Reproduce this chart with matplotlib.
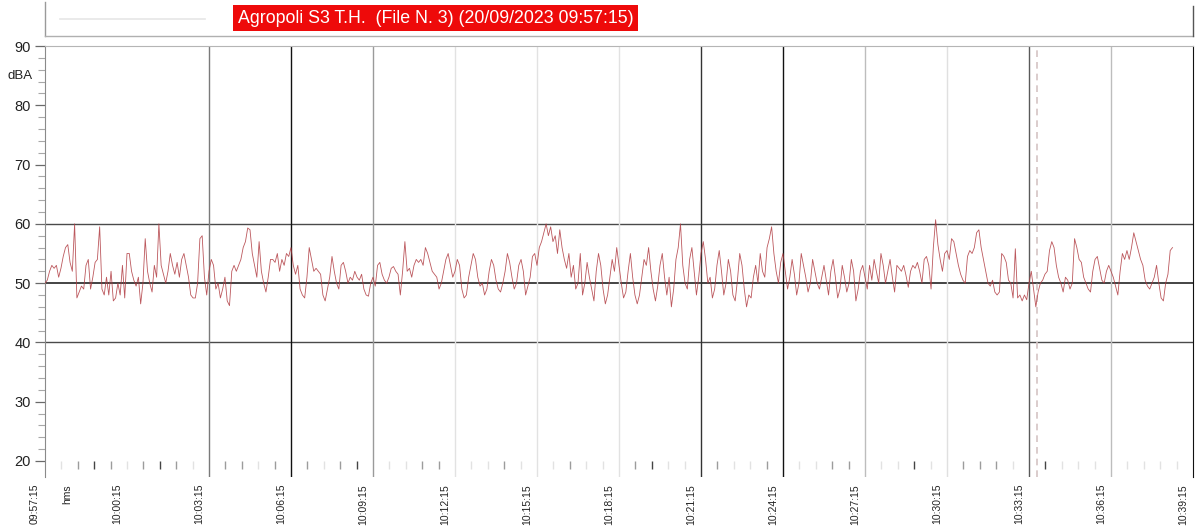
import matplotlib
matplotlib.use("Agg")
import matplotlib.pyplot as plt
import matplotlib.transforms as mtransforms
from matplotlib.patches import Rectangle
from matplotlib.lines import Line2D
import numpy as np

# ---- data -------------------------------------------------------------
sample_step_s = 5  # seconds between level readings
level_dba = [
    # 09:57:15
    50, 50.5, 52, 53, 52.5, 53, 51, 52.5, 54.5, 56, 56.5, 53.5, 52, 60, 47.5, 48.5, 49.5, 49, 53, 54,
    49, 51, 53.5, 54, 59.5, 49, 48, 51, 48, 52, 47, 47.5, 50, 48, 53, 47.5, 55, 55, 52, 50.5,
    49.5, 51, 46.5, 50, 57.5, 52, 50, 48.5, 53, 51, 60, 53, 51.5, 50, 52, 55, 53, 51.5, 53.5, 51,
    54, 55, 53, 51, 48, 47.5, 47.5, 50, 57.5, 58, 51, 48, 52, 54, 53, 49, 50, 47.5, 49, 51,
    47, 46.2, 52, 53, 52, 53, 54, 56, 57, 59.3, 59, 55, 53, 51, 57, 52, 50, 48.5, 51, 54,
    54, 53.5, 55, 52, 54, 53, 55, 54.5, 56, 53, 51.5, 53, 49, 48, 47.5, 51, 56, 54, 52, 52.5,
    52, 51.5, 48, 47, 49, 51, 54.5, 52, 50, 49, 53, 53.5, 52, 50, 51, 50.5, 52, 51, 50.5, 51.5,
    49, 48, 47.8, 50, 51, 49.5, 53, 53.5, 51.5, 50.5, 50, 51, 52.5, 52.8, 52, 51.5, 48, 52, 57, 52,
    52.5, 51, 53, 54, 53.5, 54, 53, 56, 55, 53.5, 52, 51.5, 51, 49, 50, 52, 54, 55, 53, 51,
    # 10:12:15
    52, 54, 53, 49, 47.5, 48, 51, 53, 55, 54, 51, 49.5, 50, 48, 49, 52, 54, 53, 50.5, 49,
    48.5, 50, 52, 55, 53.5, 51, 49, 50, 53, 54, 52, 48, 49.5, 51, 54.5, 55, 53, 56, 57, 58.5,
    60, 58, 59.5, 57, 58, 55, 59, 56, 54, 52.5, 55, 51, 53, 49, 50, 55, 48, 50, 53.5, 51,
    49, 47, 52, 55, 53, 49, 46.5, 48, 51, 54, 52, 56, 53, 50, 47.5, 48.5, 52, 55, 51, 48,
    46.5, 48, 51, 54, 53, 56, 52, 49, 47, 49.5, 53, 55, 51, 48, 51, 46, 49, 54, 56, 60,
    53, 50, 49, 54, 56, 52, 48, 51, 55, 57, 54, 50, 51, 47.5, 49, 53, 55.5, 52, 48, 50,
    54, 52, 48, 47, 50.5, 55, 53, 49, 46, 48, 47.5, 51, 53, 50, 55, 52, 51, 56, 57.5, 59.5,
    55, 52, 50, 53.5, 55, 52, 49, 51, 54, 51.5, 48, 50, 55, 53, 51, 48.5, 50, 54, 52, 50,
    49, 51, 53, 50.5, 48, 52, 54, 51, 47.5, 49, 53, 51, 48.5, 50, 54, 52, 47, 49, 52, 53,
    51, 49, 53, 50.5, 54, 52, 50, 55, 53, 50, 52, 54, 51, 48.5, 53, 52.5, 52, 53, 51.3, 49.3,
    # 10:28:55
    52, 53, 52.5, 53.5, 52, 50, 54, 54.5, 53, 49, 56, 60.7, 56.5, 54, 52, 55, 55.5, 54, 57.5, 57,
    55, 53, 51.5, 50.5, 50, 54.5, 55.5, 55, 56, 58.5, 59, 56, 54, 52, 50, 49.5, 50.5, 48.5, 48, 48.5,
    55, 54.5, 53.5, 50.5, 50, 47.5, 55.8, 47.5, 48, 47, 48, 47.2, 50, 52, 49, 46, 48.5, 50, 50.5, 51.5,
    52, 55.5, 57, 56, 53, 51, 50, 48.5, 51, 50.5, 49, 50, 57.5, 56, 54, 53.5, 51, 50, 49, 48.5,
    52, 54, 54.5, 52.5, 50.5, 50, 52, 53, 52, 51, 49.5, 48, 52, 55, 54, 55.5, 54, 56, 58.5, 57,
    55.5, 54, 53, 50.5, 49.5, 49, 50, 51, 53, 50, 47.5, 47, 50, 51.5, 55.5, 56,
]

time_labels = [
    "09:57:15", "10:00:15", "10:03:15", "10:06:15", "10:09:15",
    "10:12:15", "10:15:15", "10:18:15", "10:21:15", "10:24:15",
    "10:27:15", "10:30:15", "10:33:15", "10:36:15", "10:39:15",
]
label_step_s = 180
grid_colors = [
    None, None, "#7a7a7a", "#111111", "#9a9a9a",
    "#e2e2e2", "#e2e2e2", "#e2e2e2", "#333333", "#111111",
    "#bdbdbd", "#e0e0e0", "#5a5a5a", "#bdbdbd", None,
]

# event marks every 36 s along the bottom (0 = none, 1 faint, 2 mid, 3 dark)
mark_step_s = 36
mark_levels = [
    0, 1, 2, 3, 2, 1, 2, 3, 2, 1,
    0, 2, 2, 1, 2, 0, 2, 1, 2, 3,
    0, 1, 1, 2, 2, 0, 1, 1, 2, 1,
    0, 1, 2, 1, 1, 0, 2, 3, 1, 1,
    0, 2, 1, 1, 2, 0, 1, 1, 2, 2,
    0, 1, 1, 3, 1, 0, 2, 2, 2, 1,
    0, 3, 1, 1, 1, 0, 1, 1, 1, 1,
]
cursor_s = 2178

title = "Agropoli S3 T.H.  (File N. 3) (20/09/2023 09:57:15)"

# ---- figure -----------------------------------------------------------
W, H = 1197, 529
fig = plt.figure(figsize=(W / 100, H / 100), dpi=100)
fig.patch.set_facecolor("white")
narrow = ["Liberation Sans Narrow", "Liberation Sans", "DejaVu Sans"]
regular = ["Liberation Sans", "DejaVu Sans"]

def px(x, y):
    return x / W, 1 - y / H

ax = fig.add_axes([45 / W, 1 - 477 / H, (1193 - 45) / W, (477 - 46) / H])
t_end = label_step_s * (len(time_labels) - 1)
ax.set_xlim(0, t_end)
ax.set_ylim(17.3, 90)

# horizontal reference lines
ax.axhline(60, color="#4a4a4a", lw=1.0, zorder=1)
ax.axhline(50, color="#111111", lw=1.1, zorder=1)
ax.axhline(40, color="#4a4a4a", lw=1.0, zorder=1)

# vertical time grid
for i, c in enumerate(grid_colors):
    if c is not None:
        ax.axvline(i * label_step_s, color=c, lw=1.0, zorder=1)

# cursor
ax.axvline(cursor_s, color="#d4c4c4", lw=1.2, ls=(0, (4, 3)), zorder=1)

# bottom marks
mark_cols = {1: "#e2e2e2", 2: "#9c9c9c", 3: "#444444"}
for k, lv in enumerate(mark_levels):
    if lv:
        ax.vlines(k * mark_step_s, 18.7, 20.0, colors=mark_cols[lv], lw=1.0, zorder=1)

# level trace
t = np.arange(len(level_dba)) * sample_step_s
ax.plot(t, level_dba, color="#b03a40", lw=0.6, alpha=0.85, zorder=3)

# spines
ax.spines["bottom"].set_visible(False)
ax.spines["top"].set_color("#b5b5b5")
ax.spines["left"].set_color("#8a8a8a")
ax.spines["right"].set_color("#111111")

# y ticks
ax.set_yticks(np.arange(20, 91, 10))
ax.set_yticks(np.arange(20, 91, 2), minor=True)
ax.tick_params(axis="y", which="major", length=7, color="#6a6a6a", width=0.9,
               labelsize=10.5, pad=3, labelcolor="#222222")
ax.tick_params(axis="y", which="minor", length=5, color="#a8a8a8", width=0.8)
for lab in ax.get_yticklabels():
    lab.set_family(regular)

# x tick labels (rotated, offset left of their tick)
ax.set_xticks([])
offset = mtransforms.ScaledTranslation(-10 / 100, 0, fig.dpi_scale_trans)
trans = mtransforms.blended_transform_factory(ax.transData, fig.transFigure)
for i, s in enumerate(time_labels):
    ax.text(i * label_step_s, 1 - 484 / H, s, rotation=90, ha="center", va="top",
            fontsize=7.5, family=narrow, color="#222222",
            transform=trans + offset, clip_on=False)
ax.text(70, 1 - 484 / H, "hms", rotation=90, ha="center", va="top",
        fontsize=7.5, family=narrow, color="#222222",
        transform=trans + offset, clip_on=False)

fig.text(*px(20, 76), "dBA", ha="center", va="center", fontsize=9.5,
         family=regular, color="#222222")

# header box
fig.add_artist(Line2D([45 / W, 45 / W], [1 - 2 / H, 1 - 36 / H], color="#9a9a9a", lw=1.0))
fig.add_artist(Line2D([45 / W, 1193 / W], [1 - 36 / H, 1 - 36 / H], color="#b0b0b0", lw=1.0))
fig.add_artist(Line2D([1193 / W, 1193 / W], [1 - 6 / H, 1 - 36 / H], color="#555555", lw=1.0))
fig.add_artist(Line2D([60 / W, 205 / W], [1 - 19 / H, 1 - 19 / H], color="#e6e6e6", lw=1.2))
fig.add_artist(Rectangle(px(233, 31), (638 - 233) / W, 26 / H, facecolor="#ee0a0a",
                         edgecolor="none", transform=fig.transFigure))
fig.text(*px(435.5, 18.5), title, ha="center", va="center", fontsize=12.8,
         family=regular, color="white")

fig.savefig("out.png", dpi=100, facecolor="white")
